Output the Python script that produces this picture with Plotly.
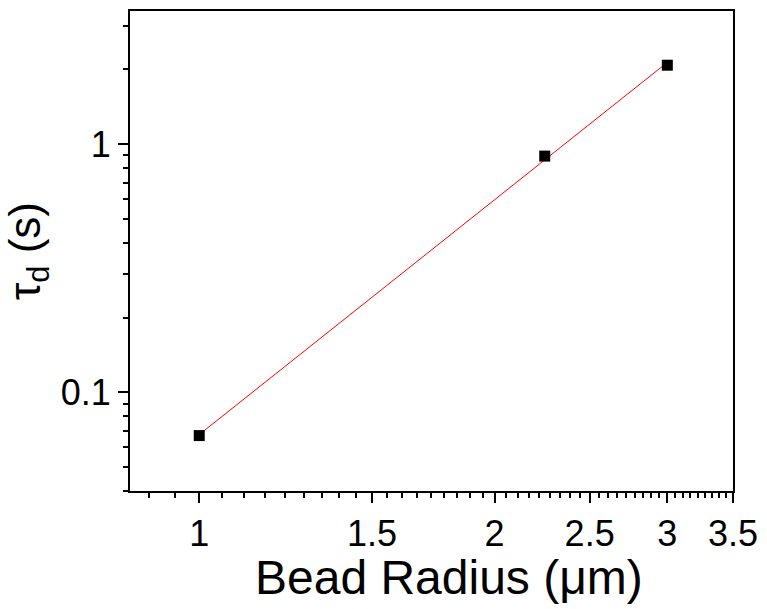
import numpy as np
import plotly.graph_objects as go

# Data
bead_radius = [1.0, 2.25, 3.0]          # µm
tau_d = [0.0669, 0.895, 2.08]            # s

x_tick_vals = [1, 1.5, 2, 2.5, 3, 3.5]
x_tick_text = ["1", "1.5", "2", "2.5", "3", "3.5"]
y_tick_vals = [0.1, 1]
y_tick_text = ["0.1", "1"]
x_title = "Bead Radius (μm)"
y_title = "τ<sub>d</sub> (s)"

# linear fit in log-log space
lx = np.log10(bead_radius)
ly = np.log10(tau_d)
slope, intercept = np.polyfit(lx, ly, 1)
fit_x = np.linspace(min(bead_radius), max(bead_radius), 50)
fit_y = 10 ** (intercept + slope * np.log10(fit_x))

# minor tick positions
x_minor = [round(0.5 + k * 0.5 / 9, 5) for k in range(0, 60)]
x_minor = [v for v in x_minor if 0.85 <= v <= 3.5]
y_minor = [m * 10.0 ** e for e in (-2, -1, 0) for m in range(1, 10)]
y_minor = [v for v in y_minor if 0.04 <= v <= 3.45]

FONT = "Liberation Sans"

fig = go.Figure()
fig.add_trace(go.Scatter(x=fit_x, y=fit_y, mode="lines",
                         line=dict(color="red", width=1), showlegend=False))
fig.add_trace(go.Scatter(x=bead_radius, y=tau_d, mode="markers",
                         marker=dict(symbol="square", size=11, color="black"),
                         showlegend=False))

fig.update_layout(
    width=767, height=609,
    margin=dict(l=130, r=28, t=9, b=118),
    paper_bgcolor="white", plot_bgcolor="white",
    font=dict(family=FONT, color="black", size=36),
)
fig.update_xaxes(
    type="log", range=[np.log10(0.85), np.log10(3.5)],
    tickmode="array", tickvals=x_tick_vals, ticktext=x_tick_text,
    ticks="outside", ticklen=10, tickwidth=2, tickcolor="black",
    showline=True, linecolor="black", linewidth=2, mirror=True,
    showgrid=False, zeroline=False,
    tickfont_size=36, tickfont_family=FONT, tickfont_color="black",
    minor=dict(tickvals=x_minor, ticks="outside", ticklen=5, tickwidth=2,
               tickcolor="black", showgrid=False),
)
fig.update_yaxes(
    type="log", range=[np.log10(0.04), np.log10(3.44)],
    tickmode="array", tickvals=y_tick_vals, ticktext=y_tick_text,
    ticks="outside", ticklen=10, tickwidth=2, tickcolor="black",
    showline=True, linecolor="black", linewidth=2, mirror=True,
    showgrid=False, zeroline=False,
    tickfont_size=36, tickfont_family=FONT, tickfont_color="black",
    minor=dict(tickvals=y_minor, ticks="outside", ticklen=5, tickwidth=2,
               tickcolor="black", showgrid=False),
    title=dict(text=y_title, font=dict(size=44, family=FONT), standoff=12),
)
fig.add_annotation(
    text=x_title, xref="paper", yref="paper", x=0.5295, y=0,
    xanchor="center", yanchor="top", yshift=-58, showarrow=False,
    font=dict(size=48, family=FONT, color="black"),
)

fig.write_html("out.html")
